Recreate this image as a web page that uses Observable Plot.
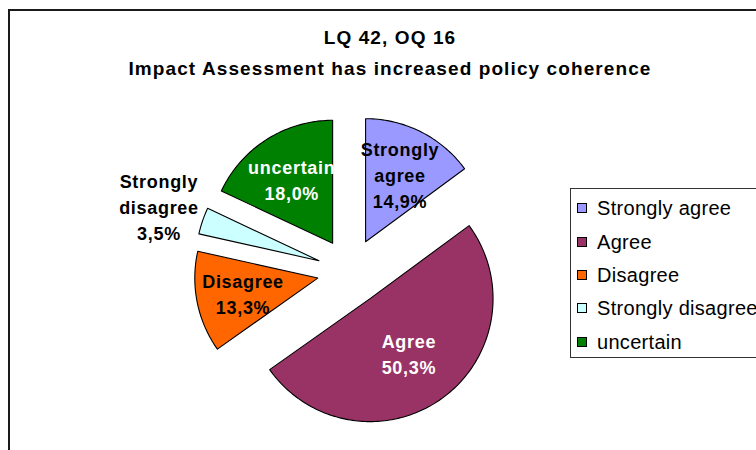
<!DOCTYPE html>
<html>
<head>
<meta charset="utf-8">
<script src="https://cdn.jsdelivr.net/npm/d3@7"></script>
<script src="https://cdn.jsdelivr.net/npm/@observablehq/plot@0.6"></script>
<style>
  html, body { margin: 0; padding: 0; background: #fff; overflow: hidden; }
  body { width: 756px; height: 450px; position: relative; font-family: "Liberation Sans", Arial, sans-serif; }
  #frame { position: absolute; left: 8px; top: 9px; width: 900px; height: 600px; border: 2px solid #1a1a1a; box-sizing: border-box; }
  #chart { position: absolute; left: 0; top: 0; }
  #chart svg text { letter-spacing: 0.7px; }
  #title { position: absolute; left: 0; top: 22px; width: 780px; text-align: center; font-weight: bold; font-size: 19px; line-height: 31px; letter-spacing: 1.1px; color: #000; }
  #legend { position: absolute; left: 570px; top: 188px; width: 260px; height: 170px; border: 1px solid #333; box-sizing: border-box; background: #fff; }
  .row { position: absolute; left: 6px; height: 24px; display: flex; align-items: center; font-size: 20px; letter-spacing: 0.3px; white-space: nowrap; }
  .sw { width: 8px; height: 8px; border: 1px solid #000; margin-right: 10px; }
</style>
</head>
<body>
<div id="frame"></div>
<div id="chart"></div>
<div id="title">LQ 42, OQ 16<br>Impact Assessment has increased policy coherence</div>
<div id="legend"></div>
<script>
const categories = ["Strongly agree", "Agree", "Disagree", "Strongly disagree", "uncertain"];
const values = [14.9, 50.3, 13.3, 3.5, 18.0];
const colors = ["#9999FF", "#993366", "#FF6600", "#CCFFFF", "#008000"];
const valueLabels = ["14,9%", "50,3%", "13,3%", "3,5%", "18,0%"];
const sliceNames = ["Strongly\nagree", "Agree", "Disagree", "Strongly\ndisagree", "uncertain"];
const labelColors = ["#000", "#fff", "#000", "#000", "#fff"];

const W = 756, H = 450;
const explode = 0.2715;
const total = d3.sum(values);

// build slices
const polys = [];
const labels = [];
let start = 0;
categories.forEach((c, i) => {
  const a0 = start / total * 2 * Math.PI;
  const a1 = (start + values[i]) / total * 2 * Math.PI;
  start += values[i];
  const mid = (a0 + a1) / 2;
  const ox = explode * Math.sin(mid), oy = explode * Math.cos(mid);
  polys.push({cat: c, x: ox, y: oy, k: 0});
  const n = Math.max(8, Math.ceil((a1 - a0) / 0.02));
  for (let j = 0; j <= n; j++) {
    const t = a0 + (a1 - a0) * j / n;
    polys.push({cat: c, x: ox + Math.sin(t), y: oy + Math.cos(t), k: j + 1});
  }
  const outside = values[i] < 5;
  const r = outside ? 1.375 : (values[i] > 40 ? 0.54 : 0.62);
  labels.push({
    text: sliceNames[i] + "\n" + valueLabels[i],
    x: ox + r * Math.sin(mid),
    y: oy + r * Math.cos(mid),
    color: labelColors[i]
  });
});

const plot = Plot.plot({
  width: W,
  height: H,
  margin: 0,
  x: {domain: [-2.846, 3.301], range: [0, W], axis: null},
  y: {domain: [-1.455, 2.203], range: [H, 0], axis: null},
  color: {domain: categories, range: colors},
  marks: [
    Plot.line(polys, {x: "x", y: "y", z: "cat", fill: "cat", stroke: "#000", strokeWidth: 1.1, curve: "linear-closed"}),
    Plot.text(labels, {x: "x", y: "y", text: "text", fill: d => d.color, fontWeight: "bold", fontSize: 18, lineHeight: 1.45, fontFamily: "Liberation Sans, Arial, sans-serif"})
  ]
});
plot.style.background = "transparent";
document.getElementById("chart").appendChild(plot);

// legend
const leg = document.getElementById("legend");
const rowTops = [7, 41, 74, 107, 141];
categories.forEach((c, i) => {
  const row = document.createElement("div");
  row.className = "row";
  row.style.top = rowTops[i] + "px";
  const sw = document.createElement("div");
  sw.className = "sw";
  sw.style.background = colors[i];
  row.appendChild(sw);
  const t = document.createElement("span");
  t.textContent = c;
  row.appendChild(t);
  leg.appendChild(row);
});
</script>
</body>
</html>
